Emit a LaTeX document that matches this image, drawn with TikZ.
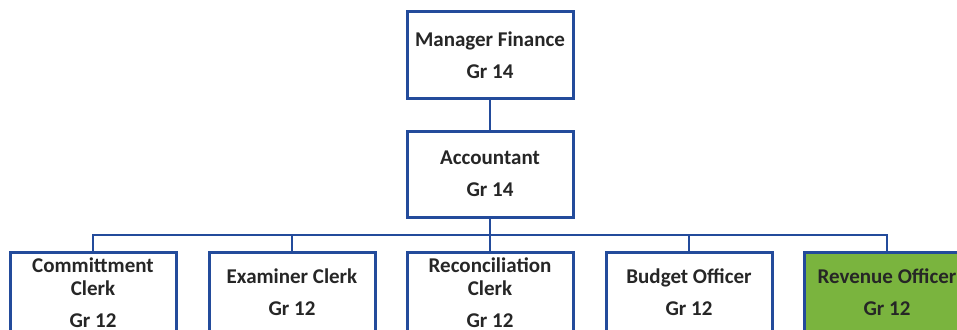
\documentclass[tikz,border=0pt]{standalone}
\usepackage{fontspec}
\setmainfont{Carlito}
\definecolor{boxblue}{RGB}{35,75,155}
\definecolor{revgreen}{RGB}{122,180,62}
\tikzset{
  orgbox/.style={draw=boxblue, line width=3pt, fill=white, minimum width=166pt, minimum height=86pt,
    align=center, inner sep=0pt, font=\bfseries\fontsize{21}{23}\selectfont, text=black!85},
  lowbox/.style={orgbox, anchor=north, minimum height=80pt},
  link/.style={draw=boxblue, line width=2.8pt}
}
\begin{document}
\begin{tikzpicture}[x=1pt,y=-1pt]
\useasboundingbox (0,0) rectangle (957,329);
\clip (0,0) rectangle (957,329);
\node[orgbox] (mgr) at (490,55) {Manager Finance\\[9pt]Gr 14};
\node[orgbox] (acc) at (490,174) {Accountant\\[9pt]Gr 14};
\node[lowbox] (c1) at (93,251) {Committment\\Clerk\\[9pt]Gr 12};
\node[lowbox] (c2) at (292,251) {Examiner Clerk\\[9pt]Gr 12};
\node[lowbox] (c3) at (490,251) {Reconciliation\\Clerk\\[9pt]Gr 12};
\node[lowbox] (c4) at (689,251) {Budget Officer\\[9pt]Gr 12};
\node[lowbox, fill=revgreen] (c5) at (887,251) {Revenue Officer\\[9pt]Gr 12};
\coordinate (bus) at (490,235);
\draw[link] (mgr.south) -- (acc.north);
\draw[link] (acc.south) -- (bus);
\draw[link] (c1.north) |- (bus) -| (c5.north);
\draw[link] (c2.north) -- (c2.north |- bus);
\draw[link] (c3.north) -- (bus);
\draw[link] (c4.north) -- (c4.north |- bus);
\end{tikzpicture}
\end{document}
